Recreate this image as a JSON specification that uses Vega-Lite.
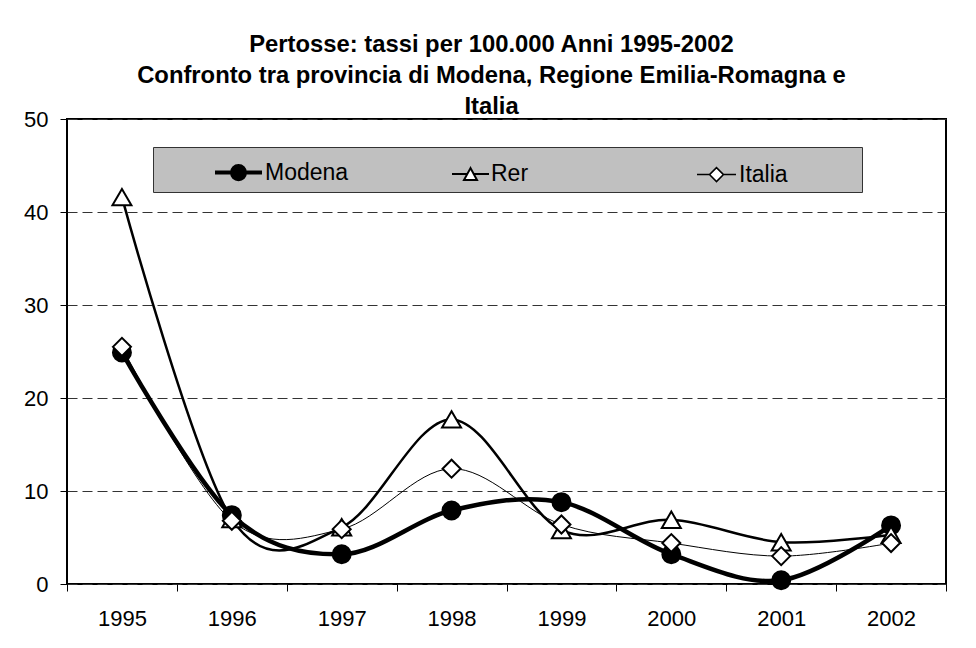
{
  "$schema": "https://vega.github.io/schema/vega-lite/v6.json",
  "width": 879,
  "height": 465,
  "autosize": {"type": "none"},
  "padding": {"left": 67, "top": 119, "right": 30, "bottom": 64},
  "background": "white",
  "config": {
    "view": {"stroke": "black", "strokeWidth": 2},
    "font": "Liberation Sans"
  },
  "title": {
    "text": ["Pertosse: tassi per 100.000 Anni 1995-2002", "Confronto tra provincia di Modena, Regione Emilia-Romagna e", "Italia"],
    "font": "Liberation Sans",
    "fontSize": 23.8,
    "fontWeight": "bold",
    "color": "black",
    "anchor": "middle",
    "frame": "group",
    "dx": -15,
    "lineHeight": 31,
    "offset": -11
  },
  "data": {
    "values": [
      {"anno": "1995", "serie": "Modena", "tasso": 24.9},
      {"anno": "1996", "serie": "Modena", "tasso": 7.4},
      {"anno": "1997", "serie": "Modena", "tasso": 3.2},
      {"anno": "1998", "serie": "Modena", "tasso": 7.9},
      {"anno": "1999", "serie": "Modena", "tasso": 8.8},
      {"anno": "2000", "serie": "Modena", "tasso": 3.2},
      {"anno": "2001", "serie": "Modena", "tasso": 0.4},
      {"anno": "2002", "serie": "Modena", "tasso": 6.3},
      {"anno": "1995", "serie": "Rer", "tasso": 41.6},
      {"anno": "1996", "serie": "Rer", "tasso": 7.0},
      {"anno": "1997", "serie": "Rer", "tasso": 6.1},
      {"anno": "1998", "serie": "Rer", "tasso": 17.7},
      {"anno": "1999", "serie": "Rer", "tasso": 5.8},
      {"anno": "2000", "serie": "Rer", "tasso": 6.9},
      {"anno": "2001", "serie": "Rer", "tasso": 4.5},
      {"anno": "2002", "serie": "Rer", "tasso": 5.3},
      {"anno": "1995", "serie": "Italia", "tasso": 25.5},
      {"anno": "1996", "serie": "Italia", "tasso": 6.8},
      {"anno": "1997", "serie": "Italia", "tasso": 5.9},
      {"anno": "1998", "serie": "Italia", "tasso": 12.4},
      {"anno": "1999", "serie": "Italia", "tasso": 6.4},
      {"anno": "2000", "serie": "Italia", "tasso": 4.4},
      {"anno": "2001", "serie": "Italia", "tasso": 3.0},
      {"anno": "2002", "serie": "Italia", "tasso": 4.4}
    ]
  },
  "encoding": {
    "x": {
      "field": "anno",
      "type": "ordinal",
      "scale": {"type": "band", "paddingInner": 0, "paddingOuter": 0},
      "axis": {
        "title": null,
        "tickBand": "extent",
        "domain": false,
        "grid": false,
        "tickSize": 7,
        "tickColor": "black",
        "labelAngle": 0,
        "labelFont": "Liberation Sans",
        "labelFontSize": 22,
        "labelColor": "black",
        "labelPadding": 17
      }
    },
    "y": {
      "field": "tasso",
      "type": "quantitative",
      "scale": {"domain": [0, 50], "nice": false},
      "axis": {
        "title": null,
        "values": [0, 10, 20, 30, 40, 50],
        "grid": true,
        "gridDash": [10, 5],
        "gridColor": "#333333",
        "domain": false,
        "tickSize": 7,
        "tickColor": "black",
        "labelFont": "Liberation Sans",
        "labelFontSize": 22,
        "labelColor": "black",
        "labelPadding": 12
      }
    }
  },
  "layer": [
    {
      "mark": {"type": "line", "interpolate": "cardinal", "clip": true, "color": "black"},
      "encoding": {
        "detail": {"field": "serie", "type": "nominal"},
        "strokeWidth": {
          "condition": [
            {"test": "datum.serie === 'Modena'", "value": 4.5},
            {"test": "datum.serie === 'Rer'", "value": 2.5}
          ],
          "value": 1
        }
      }
    },
    {
      "mark": {"type": "point", "filled": true, "stroke": "black", "strokeWidth": 2, "opacity": 1},
      "encoding": {
        "fill": {"condition": {"test": "datum.serie === 'Modena'", "value": "black"}, "value": "white"},
        "shape": {
          "condition": [
            {"test": "datum.serie === 'Modena'", "value": "circle"},
            {"test": "datum.serie === 'Rer'", "value": "triangle-up"}
          ],
          "value": "diamond"
        },
        "size": {"condition": {"test": "datum.serie === 'Rer'", "value": 361}, "value": 324}
      }
    },
    {
      "transform": [{"filter": "datum.tasso < 0"}],
      "mark": {"type": "point", "filled": true, "stroke": "black", "opacity": 1},
      "encoding": {
        "fill": {
          "field": "serie",
          "type": "nominal",
          "scale": {"domain": ["Modena", "Rer", "Italia"], "range": ["black", "white", "white"]}
        },
        "strokeWidth": {
          "field": "serie",
          "type": "nominal",
          "scale": {"type": "ordinal", "domain": ["Modena", "Rer", "Italia"], "range": [4, 2, 1.5]}
        },
        "shape": {
          "field": "serie",
          "type": "nominal",
          "scale": {
            "domain": ["Modena", "Rer", "Italia"],
            "range": [
              "M-3.383,-0.479M5.511,0.479M-1,0H1M-0.277,0A0.277,0.277 0 1,1 0.277,0A0.277,0.277 0 1,1 -0.277,0Z",
              "M-3.553,-0.479M6.66,0.479M-0.532,0H0.1165M0.3935,0H1.043M0.255,-0.255L-0.022,0.255L0.532,0.255Z",
              "M-3.553,-0.479M6.234,0.479M-0.66,0H-0.128M0.468,0H1M-0.128,0L0.17,-0.298L0.468,0L0.17,0.298Z"
            ]
          },
          "legend": {
            "title": null,
            "orient": "none",
            "legendX": 86,
            "legendY": 28,
            "direction": "horizontal",
            "columns": 3,
            "gridAlign": "each",
            "columnPadding": 0,
            "padding": 0,
            "fillColor": "#c0c0c0",
            "strokeColor": "#333333",
            "symbolSize": 2209,
            "symbolOffset": 60,
            "labelOffset": 1,
            "labelFont": "Liberation Sans",
            "labelFontSize": 23,
            "labelColor": "black"
          }
        }
      }
    }
  ]
}
